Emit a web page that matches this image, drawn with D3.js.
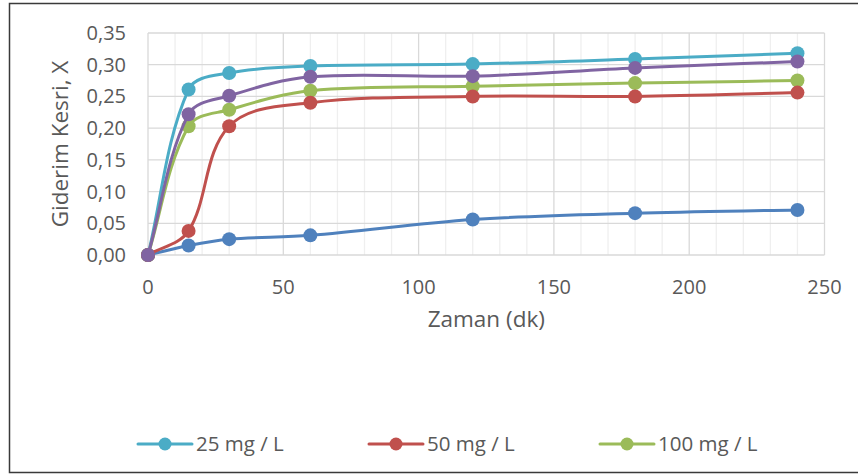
<!DOCTYPE html>
<html>
<head>
<meta charset="utf-8">
<script src="https://cdn.jsdelivr.net/npm/d3@7"></script>
<style>
  html, body { margin: 0; padding: 0; background: #fff; }
  svg { display: block; font-family: "Open Sans", "Liberation Sans", sans-serif; }
</style>
</head>
<body>
<svg id="chart" width="858" height="475"></svg>
<script>
// ---- data ----
const times = [0, 15, 30, 60, 120, 180, 240];
const s25 = [0, 0.261, 0.287, 0.298, 0.301, 0.309, 0.318];
const s50 = [0, 0.038, 0.203, 0.240, 0.250, 0.250, 0.256];
const s100 = [0, 0.203, 0.229, 0.259, 0.266, 0.271, 0.275];
const sPurple = [0, 0.222, 0.251, 0.281, 0.282, 0.295, 0.305];
const sBlue = [0, 0.015, 0.025, 0.031, 0.056, 0.066, 0.071];
const xTicks = [0, 50, 100, 150, 200, 250];
const yTicks = [0, 0.05, 0.10, 0.15, 0.20, 0.25, 0.30, 0.35];
const legendNames = ["25 mg / L", "50 mg / L", "100 mg / L"];

const series = [
  { name: "Seri 5", values: sBlue, color: "#4F81BD", legend: false },
  { name: legendNames[0], values: s25, color: "#4BACC6", legend: true },
  { name: legendNames[2], values: s100, color: "#9BBB59", legend: true },
  { name: legendNames[1], values: s50, color: "#C0504D", legend: true },
  { name: "Seri 4", values: sPurple, color: "#8064A2", legend: false }
];
const legendOrder = [1, 3, 2];

const svg = d3.select("#chart");
const x = d3.scaleLinear().domain([0, 250]).range([148, 824.5]);
const y = d3.scaleLinear().domain([0, 0.35]).range([255, 33]);

// outer border (left, top, bottom)
svg.append("path")
  .attr("d", "M858,3.5 L9.5,3.5 L9.5,472.5 L858,472.5")
  .attr("fill", "none").attr("stroke", "#3a3a3a").attr("stroke-width", 1.5);

// minor vertical gridlines
const minor = d3.range(10, 250, 10).filter(v => v % 50 !== 0);
svg.append("g").selectAll("line").data(minor).join("line")
  .attr("x1", d => x(d)).attr("x2", d => x(d))
  .attr("y1", y(0)).attr("y2", y(0.35))
  .attr("stroke", "#EFEFEF").attr("stroke-width", 1.3);

// major gridlines
svg.append("g").selectAll("line").data(xTicks).join("line")
  .attr("x1", d => x(d)).attr("x2", d => x(d))
  .attr("y1", y(0)).attr("y2", y(0.35))
  .attr("stroke", "#D9D9D9").attr("stroke-width", 1.3);
svg.append("g").selectAll("line").data(yTicks).join("line")
  .attr("x1", x(0)).attr("x2", x(250))
  .attr("y1", d => y(d)).attr("y2", d => y(d))
  .attr("stroke", "#D9D9D9").attr("stroke-width", 1.3);

// tick labels
const fmt = d => d3.format(".2f")(d).replace(".", ",");
svg.append("g").selectAll("text").data(yTicks).join("text")
  .attr("x", 126).attr("y", d => y(d)).attr("dy", "0.35em")
  .attr("text-anchor", "end").attr("font-size", 20).attr("fill", "#595959")
  .text(fmt);
svg.append("g").selectAll("text").data(xTicks).join("text")
  .attr("x", d => x(d)).attr("y", 293.5)
  .attr("text-anchor", "middle").attr("font-size", 20).attr("fill", "#595959")
  .text(d => d);

// axis titles
svg.append("text").attr("x", (x(0) + x(250)) / 2).attr("y", 327)
  .attr("text-anchor", "middle").attr("font-size", 22.5).attr("fill", "#595959")
  .text("Zaman (dk)");
svg.append("text")
  .attr("transform", `translate(68,${(y(0) + y(0.35)) / 2}) rotate(-90)`)
  .attr("text-anchor", "middle").attr("font-size", 22.5).attr("fill", "#595959")
  .text("Giderim Kesri, X");

// smoothed line (Excel-like): tangent direction from neighbours, length = segment/3
function smoothPath(pts) {
  const n = pts.length;
  const tan = pts.map((p, i) => {
    const a = pts[Math.max(0, i - 1)], b = pts[Math.min(n - 1, i + 1)];
    const dx = b[0] - a[0], dy = b[1] - a[1];
    const l = Math.hypot(dx, dy) || 1;
    return [dx / l, dy / l];
  });
  const p = d3.path();
  p.moveTo(pts[0][0], pts[0][1]);
  for (let i = 0; i < n - 1; i++) {
    const a = pts[i], b = pts[i + 1];
    const L = Math.hypot(b[0] - a[0], b[1] - a[1]) / 3;
    p.bezierCurveTo(a[0] + tan[i][0] * L, a[1] + tan[i][1] * L,
                    b[0] - tan[i + 1][0] * L, b[1] - tan[i + 1][1] * L,
                    b[0], b[1]);
  }
  return p.toString();
}

series.forEach(s => {
  const pts = times.map((t, i) => [x(t), y(s.values[i])]);
  const g = svg.append("g");
  g.append("path").attr("d", smoothPath(pts))
    .attr("fill", "none").attr("stroke", s.color).attr("stroke-width", 3)
    .attr("stroke-linejoin", "round").attr("stroke-linecap", "round");
  g.selectAll("circle").data(pts).join("circle")
    .attr("cx", d => d[0]).attr("cy", d => d[1]).attr("r", 7)
    .attr("fill", s.color);
});

// legend
const legendX = [138, 369, 600];
legendOrder.forEach((si, k) => {
  const s = series[si];
  const lx = legendX[k], ly = 444;
  const g = svg.append("g");
  g.append("line").attr("x1", lx).attr("x2", lx + 54).attr("y1", ly).attr("y2", ly)
    .attr("stroke", s.color).attr("stroke-width", 3).attr("stroke-linecap", "round");
  g.append("circle").attr("cx", lx + 27).attr("cy", ly).attr("r", 6.5).attr("fill", s.color);
  g.append("text").attr("x", lx + 58).attr("y", ly).attr("dy", "0.35em")
    .attr("font-size", 20.5).attr("fill", "#595959").text(s.name);
});
</script>
</body>
</html>
